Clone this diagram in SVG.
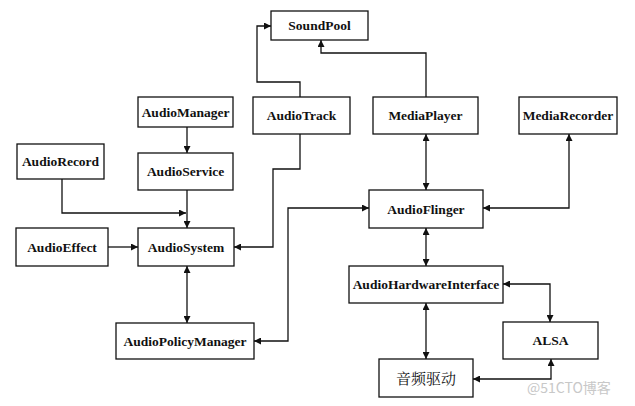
<svg xmlns="http://www.w3.org/2000/svg" width="635" height="406" viewBox="0 0 635 406">
<style>
.box{fill:#fff;stroke:#111;stroke-width:1.3}
.t{font-family:'Liberation Serif','DejaVu Serif',serif;font-size:13.5px;font-weight:bold;fill:#111;text-anchor:middle}
.cn{font-family:'Noto Serif CJK SC','Noto Sans CJK SC',serif;font-size:15px;fill:#111;text-anchor:middle}
.c{fill:none;stroke:#111;stroke-width:1.3}
.wm{font-family:'Noto Sans CJK SC','Liberation Sans',sans-serif;font-size:14px;fill:#c8c8c8}
</style>
<defs>
<marker id="ah" viewBox="0 0 10 10" refX="10" refY="5" markerUnits="userSpaceOnUse" markerWidth="9" markerHeight="7" orient="auto-start-reverse">
<path d="M0,0 L10,5 L0,10 z" fill="#111"/>
</marker>
</defs>
<g id="connectors">
<path class="c" d="M300,97 V82 H257 V26 H271" marker-end="url(#ah)"/>
<path class="c" d="M426,97 V53 H321 V40" marker-end="url(#ah)"/>
<path class="c" d="M187,127 V153" marker-end="url(#ah)"/>
<path class="c" d="M62,179 V213 H186" marker-end="url(#ah)"/>
<path class="c" d="M187,190 V228" marker-end="url(#ah)"/>
<path class="c" d="M108,247 H138" marker-end="url(#ah)"/>
<path class="c" d="M300,134 V169 H273 V247 H234" marker-end="url(#ah)"/>
<path class="c" d="M187,266 V323" marker-start="url(#ah)" marker-end="url(#ah)"/>
<path class="c" d="M369,208 H288 V341 H254" marker-start="url(#ah)" marker-end="url(#ah)"/>
<path class="c" d="M426,134 V190" marker-start="url(#ah)" marker-end="url(#ah)"/>
<path class="c" d="M569,134 V208 H483" marker-start="url(#ah)" marker-end="url(#ah)"/>
<path class="c" d="M426,228 V266" marker-start="url(#ah)" marker-end="url(#ah)"/>
<path class="c" d="M426,303 V359" marker-start="url(#ah)" marker-end="url(#ah)"/>
<path class="c" d="M503,284 H550 V322" marker-start="url(#ah)" marker-end="url(#ah)"/>
<path class="c" d="M551,359 V379 H473" marker-start="url(#ah)" marker-end="url(#ah)"/>
</g>
<g id="SoundPool"><rect class="box" x="271" y="11" width="97" height="29"/><text class="t" x="319.5" y="30">SoundPool</text></g>
<g id="AudioManager"><rect class="box" x="138" y="97" width="95" height="30"/><text class="t" x="185.5" y="116.5">AudioManager</text></g>
<g id="AudioTrack"><rect class="box" x="253" y="97" width="97" height="37"/><text class="t" x="301.5" y="120">AudioTrack</text></g>
<g id="MediaPlayer"><rect class="box" x="373" y="97" width="105" height="37"/><text class="t" x="425.5" y="120">MediaPlayer</text></g>
<g id="MediaRecorder"><rect class="box" x="519" y="97" width="98" height="37"/><text class="t" x="568" y="120">MediaRecorder</text></g>
<g id="AudioRecord"><rect class="box" x="17" y="144" width="87" height="35"/><text class="t" x="60.5" y="166">AudioRecord</text></g>
<g id="AudioService"><rect class="box" x="138" y="153" width="95" height="37"/><text class="t" x="185.5" y="176">AudioService</text></g>
<g id="AudioEffect"><rect class="box" x="16" y="228" width="92" height="38"/><text class="t" x="62" y="251.5">AudioEffect</text></g>
<g id="AudioSystem"><rect class="box" x="138" y="228" width="96" height="38"/><text class="t" x="186" y="251.5">AudioSystem</text></g>
<g id="AudioPolicyManager"><rect class="box" x="116" y="323" width="138" height="36"/><text class="t" x="185" y="345.5">AudioPolicyManager</text></g>
<g id="AudioFlinger"><rect class="box" x="369" y="190" width="114" height="38"/><text class="t" x="426" y="213.5">AudioFlinger</text></g>
<g id="AudioHardwareInterface"><rect class="box" x="349" y="266" width="154" height="37"/><text class="t" x="426" y="289">AudioHardwareInterface</text></g>
<g id="ALSA"><rect class="box" x="503" y="322" width="95" height="37"/><text class="t" x="550.5" y="345">ALSA</text></g>
<g id="AudioDriver"><rect class="box" x="379" y="359" width="94" height="38"/><text class="cn" x="426" y="384">音频驱动</text></g>
<text class="wm" x="527" y="393">@51CTO博客</text>
</svg>
